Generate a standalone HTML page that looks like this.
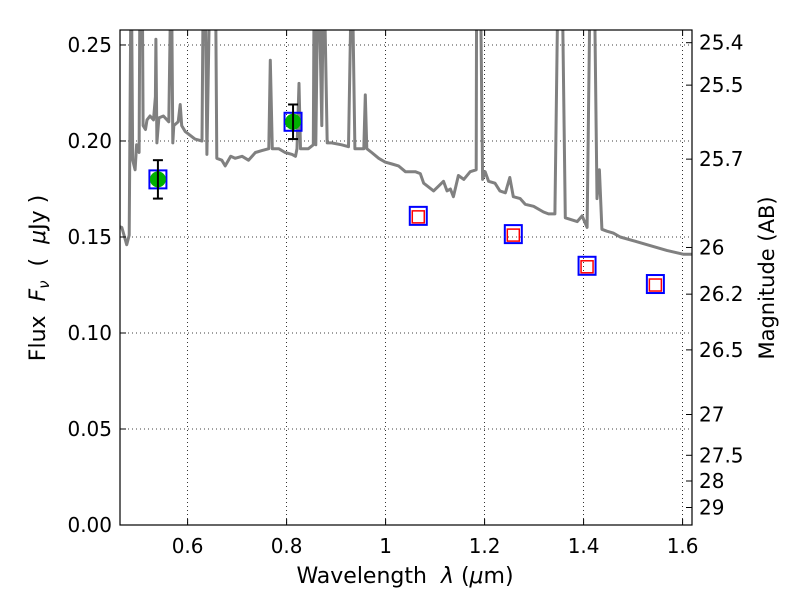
<!DOCTYPE html>
<html><head><meta charset="utf-8"><style>
body{margin:0;background:#fff;}
svg{font-family:"DejaVu Sans","Liberation Sans",sans-serif;}
</style></head><body>
<svg id="chart" width="800" height="600">
<defs><clipPath id="clip"><rect x="120" y="30" width="572" height="495"/></clipPath></defs>
<g id="grid"></g>
<g id="spec" clip-path="url(#clip)"></g>
<g id="marks"></g>
<rect x="120" y="30" width="572" height="495" fill="none" stroke="#000" stroke-width="1.2"/>
<g id="axes"></g>
<text x="405" y="583" font-size="22" text-anchor="middle" xml:space="preserve" style="white-space:pre">Wavelength  <tspan font-style="italic">λ</tspan> (<tspan font-style="italic">μ</tspan>m)</text>
<text transform="translate(45,278) rotate(-90)" font-size="22" text-anchor="middle" xml:space="preserve" style="white-space:pre">Flux  <tspan font-style="italic">F</tspan><tspan font-style="italic" font-size="15" dy="4">ν</tspan><tspan dy="-4">  (  </tspan><tspan font-style="italic">μ</tspan>Jy )</text>
<text transform="translate(774,278) rotate(-90)" font-size="21" text-anchor="middle">Magnitude (AB)</text>
</svg>
<script>
const specLam=[0.454,0.467,0.477,0.482,0.486,0.489,0.494,0.497,0.502,0.504,0.508,0.510,0.515,0.518,0.524,0.531,0.535,0.536,0.538,0.542,0.551,0.562,0.567,0.570,0.572,0.581,0.585,0.588,0.595,0.615,0.629,0.632,0.635,0.639,0.646,0.649,0.656,0.659,0.669,0.676,0.687,0.696,0.710,0.723,0.737,0.750,0.764,0.767,0.771,0.784,0.797,0.811,0.818,0.821,0.825,0.828,0.834,0.844,0.854,0.856,0.859,0.864,0.871,0.875,0.882,0.891,0.911,0.925,0.932,0.938,0.945,0.956,0.959,0.962,0.972,0.986,0.999,1.013,1.026,1.040,1.060,1.070,1.077,1.097,1.117,1.124,1.131,1.137,1.147,1.158,1.171,1.183,1.184,1.191,1.196,1.201,1.208,1.221,1.231,1.242,1.251,1.258,1.272,1.282,1.299,1.319,1.329,1.342,1.349,1.356,1.363,1.387,1.397,1.407,1.414,1.421,1.427,1.432,1.437,1.447,1.460,1.474,1.501,1.528,1.568,1.602,1.618];
const specFlux=[0.156,0.155,0.146,0.151,0.30,0.19,0.185,0.198,0.194,0.30,0.30,0.208,0.206,0.211,0.213,0.211,0.223,0.253,0.199,0.212,0.213,0.210,0.30,0.199,0.208,0.210,0.219,0.208,0.205,0.201,0.200,0.30,0.30,0.193,0.30,0.30,0.30,0.191,0.190,0.187,0.192,0.191,0.192,0.190,0.194,0.195,0.196,0.242,0.196,0.196,0.194,0.193,0.192,0.196,0.230,0.196,0.196,0.196,0.198,0.30,0.198,0.30,0.208,0.30,0.199,0.199,0.198,0.197,0.30,0.196,0.196,0.196,0.224,0.196,0.194,0.191,0.189,0.188,0.187,0.184,0.184,0.183,0.178,0.174,0.179,0.174,0.175,0.171,0.182,0.180,0.184,0.185,0.30,0.30,0.180,0.184,0.179,0.178,0.174,0.173,0.181,0.171,0.170,0.167,0.166,0.163,0.162,0.162,0.30,0.30,0.160,0.158,0.161,0.155,0.30,0.30,0.170,0.185,0.154,0.153,0.152,0.150,0.148,0.146,0.143,0.141,0.141];
const obsLam=[0.540,0.813];
const obsFlux=[0.180,0.210];
const obsErr=[0.010,0.009];
const modLam=[1.066,1.258,1.407,1.545];
const modFlux=[0.161,0.1515,0.135,0.1255];
const xTicks=[0.6,0.8,1.0,1.2,1.4,1.6];
const xTickLabels=["0.6","0.8","1","1.2","1.4","1.6"];
const yTicks=[0,0.05,0.10,0.15,0.20,0.25];
const yTickLabels=["0.00","0.05","0.10","0.15","0.20","0.25"];
const magTicks=[25.4,25.5,25.7,26,26.2,26.5,27,27.5,28,29];
const magLabels=["25.4","25.5","25.7","26","26.2","26.5","27","27.5","28","29"];

const X0=120,X1=692,Y0=525,Y1=30,xmin=0.4634,xmax=1.619,ymin=0,ymax=0.2578;
const sx=v=>X0+(v-xmin)/(xmax-xmin)*(X1-X0);
const sy=v=>Y0-(v-ymin)/(ymax-ymin)*(Y0-Y1);
const NS="http://www.w3.org/2000/svg";
function mk(tag,attrs,parent){const e=document.createElementNS(NS,tag);for(const k in attrs)e.setAttribute(k,attrs[k]);parent.appendChild(e);return e;}
const grid=document.getElementById('grid'),axes=document.getElementById('axes'),spec=document.getElementById('spec'),marks=document.getElementById('marks');

xTicks.forEach((t,i)=>{const x=sx(t);
 let g=mk('line',{x1:x,x2:x,y1:Y1,y2:Y0,stroke:'#000','stroke-width':0.8,'stroke-dasharray':'1,3'},grid);
 
 mk('line',{x1:x,x2:x,y1:Y0,y2:Y0-6,stroke:'#000'},axes);
 mk('line',{x1:x,x2:x,y1:Y1,y2:Y1+6,stroke:'#000'},axes);
 let tx=mk('text',{x:x,y:Y0+28,'font-size':20,'text-anchor':'middle'},axes);tx.textContent=xTickLabels[i];
 });
yTicks.forEach((t,i)=>{const y=sy(t);
 let g=mk('line',{x1:X0,x2:X1,y1:y,y2:y,stroke:'#000','stroke-width':0.8,'stroke-dasharray':'1,3'},grid);
 
 mk('line',{x1:X0,x2:X0+6,y1:y,y2:y,stroke:'#000'},axes);
 let tx=mk('text',{x:X0-8,y:y+7,'font-size':20,'text-anchor':'end'},axes);tx.textContent=yTickLabels[i];
 });
magTicks.forEach((m,i)=>{const y=sy(Math.pow(10,(23.9-m)/2.5));
 mk('line',{x1:X1,x2:X1-6,y1:y,y2:y,stroke:'#000'},axes);
 let tx=mk('text',{x:X1+7,y:y+7,'font-size':20},axes);tx.textContent=magLabels[i];
 });

let d=specLam.map((l,i)=>(i?'L':'M')+sx(l).toFixed(1)+','+sy(specFlux[i]).toFixed(1)).join('');
let p=mk('path',{d:d,fill:'none',stroke:'#808080','stroke-width':3,'stroke-linejoin':'round'},spec);


obsLam.forEach((l,i)=>{const x=sx(l),y=sy(obsFlux[i]),ya=sy(obsFlux[i]+obsErr[i]),yb=sy(obsFlux[i]-obsErr[i]);
 let s=mk('rect',{x:x-8.5,y:y-9,width:17,height:18,fill:'none',stroke:'#0000ff','stroke-width':2},marks);
 
 let c=mk('circle',{cx:x,cy:y,r:8,fill:'#00b000'},marks);
 
 mk('line',{x1:x,x2:x,y1:ya,y2:yb,stroke:'#000','stroke-width':2},marks);
 mk('line',{x1:x-5,x2:x+5,y1:ya,y2:ya,stroke:'#000','stroke-width':2},marks);
 mk('line',{x1:x-5,x2:x+5,y1:yb,y2:yb,stroke:'#000','stroke-width':2},marks);});
modLam.forEach((l,i)=>{const x=sx(l),y=sy(modFlux[i]);
 let s=mk('rect',{x:x-8.5,y:y-9,width:17,height:18,fill:'none',stroke:'#0000ff','stroke-width':2},marks);
 
 let r=mk('rect',{x:x-6,y:y-5,width:12,height:12,fill:'none',stroke:'#ff0000','stroke-width':1.5},marks);
 });
</script>
</body></html>
